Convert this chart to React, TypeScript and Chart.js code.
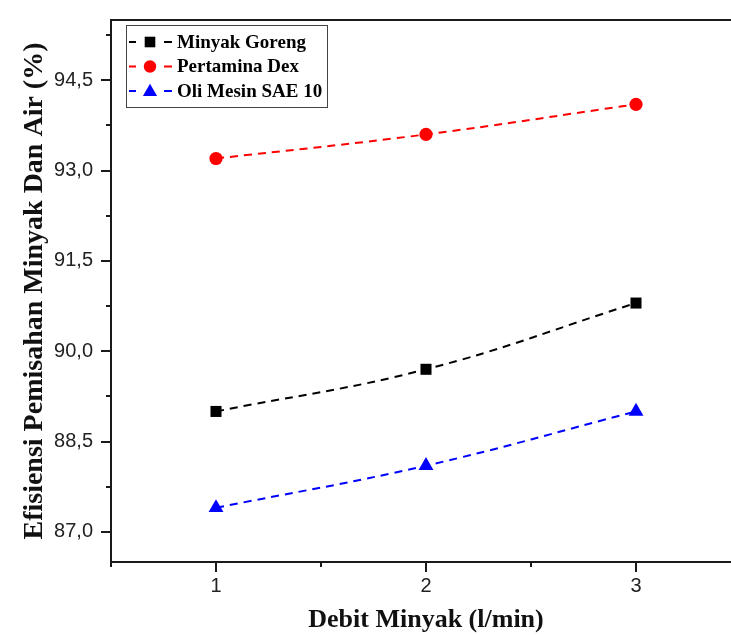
import React, { useEffect, useRef } from 'react';
import { Chart, registerables } from 'chart.js';

Chart.register(...registerables);

const flowRates = [1, 2, 3];
const minyakGoreng = [89.0, 89.7, 90.8];
const pertaminaDex = [93.2, 93.6, 94.1];
const oliMesin = [87.4, 88.1, 89.0];

const seriesLabels = ['Minyak Goreng', 'Pertamina Dex', 'Oli Mesin SAE 10'];
const seriesColors = ['#000000', '#ff0000', '#0000ff'];
const seriesShapes = ['rect', 'circle', 'triangle'];

const yMajorTicks = [87.0, 88.5, 90.0, 91.5, 93.0, 94.5];
const yMinorTicks = [87.75, 89.25, 90.75, 92.25, 93.75, 95.25];
const xMajorTicks = [1, 2, 3];
const xMinorTicks = [0.5, 1.5, 2.5, 3.5];

const Y_MIN = 86.5;
const Y_MAX = 95.5;
const X_MIN = 0.5;
const X_MAX = 3.5;

const CANVAS_W = 760;
const CANVAS_H = 635;

function drawShape(ctx: CanvasRenderingContext2D, shape: string, x: number, y: number, r: number, color: string) {
  ctx.save();
  ctx.fillStyle = color;
  ctx.beginPath();
  if (shape === 'rect') {
    const s = r * Math.SQRT1_2;
    ctx.rect(x - s, y - s, 2 * s, 2 * s);
  } else if (shape === 'circle') {
    ctx.arc(x, y, r, 0, Math.PI * 2);
  } else {
    const w = r;
    ctx.moveTo(x, y - r);
    ctx.lineTo(x + Math.sin((2 * Math.PI) / 3) * w, y - Math.cos((2 * Math.PI) / 3) * r);
    ctx.lineTo(x + Math.sin((4 * Math.PI) / 3) * w, y - Math.cos((4 * Math.PI) / 3) * r);
    ctx.closePath();
  }
  ctx.fill();
  ctx.restore();
}

const framePlugin = {
  id: 'frame',
  afterDraw(chart: any) {
    const { ctx, chartArea, scales } = chart;
    const { left, right, top, bottom } = chartArea;
    ctx.save();
    ctx.strokeStyle = '#1a1a1a';
    ctx.lineWidth = 2;
    ctx.lineCap = 'butt';
    ctx.beginPath();
    ctx.moveTo(left, top);
    ctx.lineTo(right, top);
    ctx.moveTo(left, top - 1);
    ctx.lineTo(left, bottom + 1);
    ctx.moveTo(left - 1, bottom);
    ctx.lineTo(right, bottom);
    ctx.moveTo(right, top);
    ctx.lineTo(right, bottom);
    ctx.stroke();

    ctx.lineWidth = 2;
    ctx.beginPath();
    const ys = scales.y;
    const xs = scales.x;
    yMajorTicks.forEach((v) => {
      const py = Math.round(ys.getPixelForValue(v));
      ctx.moveTo(left - 10, py);
      ctx.lineTo(left, py);
    });
    yMinorTicks.forEach((v) => {
      const py = Math.round(ys.getPixelForValue(v));
      ctx.moveTo(left - 5, py);
      ctx.lineTo(left, py);
    });
    xMajorTicks.forEach((v) => {
      const px = Math.round(xs.getPixelForValue(v));
      ctx.moveTo(px, bottom);
      ctx.lineTo(px, bottom + 10);
    });
    xMinorTicks.forEach((v) => {
      const px = Math.round(xs.getPixelForValue(v));
      ctx.moveTo(px, bottom);
      ctx.lineTo(px, bottom + 5);
    });
    ctx.stroke();
    ctx.restore();
  },
};

const legendPlugin = {
  id: 'customLegend',
  afterDraw(chart: any) {
    const { ctx } = chart;
    const bx = 126.5;
    const by = 25.5;
    const bw = 201;
    const bh = 82;
    ctx.save();
    ctx.fillStyle = '#ffffff';
    ctx.fillRect(bx, by, bw, bh);
    ctx.strokeStyle = '#444444';
    ctx.lineWidth = 1;
    ctx.strokeRect(bx, by, bw, bh);
    const sizes = [7.5, 6.2, 8.2];
    seriesLabels.forEach((label, i) => {
      const cy = 42 + i * 24.5;
      const color = seriesColors[i];
      ctx.strokeStyle = color;
      ctx.lineWidth = 2;
      ctx.beginPath();
      ctx.moveTo(129, cy);
      ctx.lineTo(136, cy);
      ctx.moveTo(164, cy);
      ctx.lineTo(172, cy);
      ctx.stroke();
      drawShape(ctx, seriesShapes[i], 150, i === 2 ? cy + 1 : cy, sizes[i], color);
      ctx.fillStyle = '#000000';
      ctx.font = 'bold 19px "Liberation Serif", "Times New Roman", serif';
      ctx.textBaseline = 'middle';
      ctx.textAlign = 'left';
      ctx.fillText(label, 177, cy + 1);
    });
    ctx.restore();
  },
};

export default function App() {
  const canvasRef = useRef<HTMLCanvasElement | null>(null);

  useEffect(() => {
    const canvas = canvasRef.current;
    if (!canvas) return;
    const seriesValues = [minyakGoreng, pertaminaDex, oliMesin];
    const pointRadii = [7.8, 6.6, 8.6];
    const chart = new Chart(canvas, {
      type: 'line',
      data: {
        datasets: seriesValues.map((vals, i) => ({
          label: seriesLabels[i],
          data: flowRates.map((x, j) => ({ x, y: vals[j] })),
          borderColor: seriesColors[i],
          backgroundColor: seriesColors[i],
          borderWidth: 2,
          borderDash: [8, 6],
          tension: 0.4,
          pointStyle: seriesShapes[i] as any,
          pointRadius: pointRadii[i],
          pointBorderWidth: 0,
          pointBackgroundColor: seriesColors[i],
          fill: false,
        })),
      },
      options: {
        responsive: false,
        animation: false,
        devicePixelRatio: 1,
        layout: { padding: { left: 0, right: 19, top: 14, bottom: 0 } },
        plugins: {
          legend: { display: false },
          tooltip: { enabled: false },
        },
        scales: {
          x: {
            type: 'linear',
            min: X_MIN,
            max: X_MAX,
            afterBuildTicks: (s: any) => {
              s.ticks = xMajorTicks.map((v) => ({ value: v }));
            },
            afterFit: (s: any) => {
              s.height = 73;
            },
            grid: { display: true, drawOnChartArea: false, drawTicks: true, tickLength: 10, color: 'rgba(0,0,0,0)' },
            border: { display: false },
            ticks: {
              padding: 2,
              maxRotation: 0,
              autoSkip: false,
              color: '#222222',
              font: { family: '"Liberation Sans", Arial, sans-serif', size: 20 },
              callback: (v: any) => String(v),
            },
            title: {
              display: true,
              text: 'Debit Minyak (l/min)',
              color: '#111111',
              font: { family: '"Liberation Serif", "Times New Roman", serif', size: 26, weight: 'bold' },
              padding: { top: 0, bottom: -1 },
            },
          },
          y: {
            type: 'linear',
            min: Y_MIN,
            max: Y_MAX,
            afterBuildTicks: (s: any) => {
              s.ticks = yMajorTicks.map((v) => ({ value: v }));
            },
            afterFit: (s: any) => {
              s.width = 111;
            },
            grid: { display: true, drawOnChartArea: false, drawTicks: true, tickLength: 10, color: 'rgba(0,0,0,0)' },
            border: { display: false },
            ticks: {
              padding: 8,
              autoSkip: false,
              color: '#222222',
              font: { family: '"Liberation Sans", Arial, sans-serif', size: 20 },
              callback: (v: any) => Number(v).toFixed(1).replace('.', ','),
            },
            title: {
              display: true,
              text: 'Efisiensi Pemisahan Minyak Dan Air (%)',
              color: '#111111',
              font: { family: '"Liberation Serif", "Times New Roman", serif', size: 28, weight: 'bold' },
              padding: { top: 18, bottom: 0 },
            },
          },
        },
      },
      plugins: [framePlugin, legendPlugin],
    });
    return () => {
      chart.destroy();
    };
  }, []);

  return (
    <div
      style={{
        position: 'fixed',
        left: 0,
        top: 0,
        width: 731,
        height: 635,
        overflow: 'hidden',
        background: '#ffffff',
      }}
    >
      <canvas ref={canvasRef} width={CANVAS_W} height={CANVAS_H} style={{ display: 'block', width: CANVAS_W, height: CANVAS_H }} />
    </div>
  );
}
